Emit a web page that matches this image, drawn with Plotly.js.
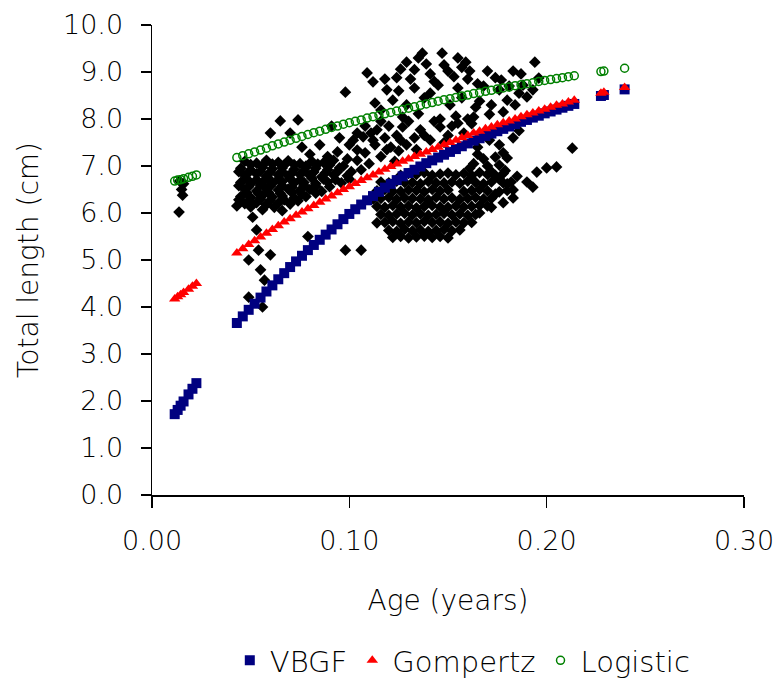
<!DOCTYPE html>
<html>
<head>
<meta charset="utf-8">
<script src="https://cdn.plot.ly/plotly-3.0.1.min.js"></script>
<style>html,body{margin:0;padding:0;background:#fff;}#chart{width:777px;height:690px;}</style>
</head>
<body>
<div id="chart"></div>
<script>
// ---- Fitted curves (evaluated at observed ages) ----
const fitAge = [0.0115,0.0130,0.0145,0.0160,0.0185,0.0205,0.0225,
  0.043,0.046,0.049,0.052,0.055,0.058,0.061,0.064,0.067,0.070,
  0.073,0.076,0.079,0.082,0.085,0.088,0.091,0.094,0.097,0.100,
  0.103,0.106,0.109,0.112,0.115,0.118,0.121,0.124,0.127,0.130,
  0.133,0.136,0.139,0.142,0.145,0.148,0.151,0.154,0.157,0.160,
  0.163,0.166,0.169,0.172,0.175,0.178,0.181,0.184,0.187,0.190,
  0.193,0.196,0.199,0.202,0.205,0.208,0.211,0.214,
  0.2275,0.2290,0.2395];
const vbgf = [1.72,1.81,1.90,1.99,2.14,2.26,2.38,
  3.66,3.80,3.94,4.07,4.20,4.33,4.46,4.59,4.72,4.85,
  4.97,5.09,5.21,5.32,5.43,5.54,5.65,5.76,5.87,5.98,
  6.08,6.18,6.27,6.36,6.45,6.54,6.62,6.70,6.78,6.85,
  6.92,6.99,7.06,7.12,7.18,7.24,7.30,7.36,7.42,7.48,
  7.54,7.59,7.64,7.69,7.74,7.79,7.84,7.89,7.94,7.98,
  8.03,8.07,8.12,8.16,8.20,8.24,8.28,8.32,
  8.49,8.51,8.63];
const gompertz = [4.17,4.22,4.26,4.31,4.38,4.44,4.50,
  5.15,5.24,5.33,5.41,5.49,5.57,5.65,5.73,5.81,5.88,
  5.95,6.02,6.09,6.16,6.23,6.30,6.36,6.43,6.50,6.56,
  6.63,6.69,6.75,6.81,6.87,6.93,6.99,7.04,7.10,7.15,
  7.20,7.25,7.30,7.35,7.40,7.45,7.50,7.55,7.60,7.65,
  7.70,7.74,7.79,7.83,7.88,7.92,7.96,8.00,8.05,8.09,
  8.13,8.17,8.21,8.25,8.29,8.32,8.36,8.40,
  8.55,8.57,8.67];
const logistic = [6.68,6.70,6.71,6.73,6.76,6.78,6.81,
  7.18,7.22,7.26,7.30,7.34,7.38,7.43,7.47,7.51,7.55,
  7.59,7.63,7.67,7.71,7.74,7.78,7.82,7.85,7.89,7.92,
  7.95,7.98,8.02,8.05,8.08,8.11,8.14,8.17,8.20,8.23,
  8.26,8.29,8.32,8.35,8.38,8.41,8.43,8.46,8.49,8.51,
  8.54,8.56,8.59,8.61,8.64,8.66,8.68,8.71,8.73,8.75,
  8.77,8.80,8.82,8.84,8.86,8.88,8.90,8.92,
  9.01,9.02,9.08];

// ---- Observed fish (age, total length) ----
const earlyAge = [0.0137,0.0150,0.0155,0.0140,0.0160];
const earlyLen = [6.02,6.50,6.38,6.68,6.62];

const leftAge = [
  0.047,0.053,0.058,0.064,0.069,0.075,0.081,0.087,0.092,
  0.050,0.056,0.061,0.067,0.072,0.078,0.084,0.090,
  0.045,0.050,0.056,0.061,0.066,0.072,0.078,0.083,0.089,0.095,
  0.044,0.049,0.055,0.060,0.066,0.071,0.077,0.082,0.088,0.094,
  0.047,0.053,0.058,0.064,0.069,0.075,0.080,0.086,0.092,0.099,
  0.048,0.053,0.059,0.064,0.070,0.075,0.081,0.087,0.093,
  0.045,0.050,0.056,0.061,0.066,0.072,0.077,0.083,0.089,0.096,
  0.044,0.049,0.055,0.060,0.066,0.071,0.077,0.083,0.090,
  0.047,0.053,0.058,0.064,0.069,0.075,0.080,0.086,
  0.048,0.054,0.059,0.065,0.071,0.076,0.083,
  0.045,0.050,0.056,0.061,0.066,0.072,0.078,
  0.044,0.049,0.055,0.060,0.067,0.074,
  0.047,0.053,0.058,0.064,0.070,
  0.050,0.056,0.062,0.066];
const leftLen = [
  7.10,7.06,7.12,7.08,7.11,7.05,7.10,7.07,7.12,
  7.03,7.01,7.04,7.02,7.03,7.00,7.04,7.02,
  6.95,6.92,6.97,6.94,6.96,6.93,6.97,6.95,6.92,6.96,
  6.88,6.86,6.89,6.87,6.88,6.85,6.89,6.87,6.86,6.88,
  6.80,6.83,6.78,6.81,6.79,6.82,6.80,6.77,6.81,6.79,
  6.73,6.71,6.74,6.72,6.73,6.70,6.74,6.72,6.71,
  6.65,6.62,6.66,6.63,6.67,6.64,6.65,6.62,6.66,6.64,
  6.58,6.56,6.59,6.57,6.58,6.55,6.59,6.57,6.56,
  6.50,6.47,6.52,6.49,6.51,6.48,6.50,6.46,
  6.43,6.41,6.44,6.42,6.43,6.40,6.42,
  6.35,6.33,6.37,6.34,6.36,6.32,6.35,
  6.28,6.26,6.29,6.27,6.28,6.26,
  6.20,6.22,6.18,6.21,6.19,
  6.13,6.07,6.12,6.05];

const upperLeftAge = [0.060,0.065,0.070,0.074,0.076,0.085,0.094,0.098,0.109,0.112,0.113,0.102,0.104,0.107,0.111,0.080,0.089,0.099];
const upperLeftLen = [7.70,7.96,7.70,7.98,7.40,7.45,7.30,8.57,8.98,8.79,8.34,7.55,7.34,7.62,7.70,7.25,7.20,7.15];

const lowAge = [0.043,0.051,0.053,0.079,0.049,0.054,0.060,0.055,0.057,0.049,0.056,0.098,0.106,0.114];
const lowLen = [6.15,5.91,5.64,5.50,5.00,5.21,5.11,4.79,4.57,4.21,4.00,5.21,5.21,5.79];

const midAge = [0.097,0.101,0.104,0.108,0.110,0.113,0.116,0.118,0.121,0.120,0.124,0.125,0.100,0.106,
  0.114,0.127,0.136,0.146,0.155,0.129,0.133,0.141,0.150,0.160,
  0.100,0.104,0.108,0.112,0.116,0.119,0.123,0.126,0.130,0.134,0.138,0.143,0.148,0.152,0.158,0.162,0.095,0.091];
const midLen = [7.00,6.88,7.12,7.28,7.05,7.45,7.20,7.60,7.40,7.85,7.65,7.32,6.72,6.92,
  7.77,7.83,7.77,7.83,7.91,7.45,7.60,7.55,7.65,8.00,
  7.45,7.70,7.85,7.55,7.95,7.35,7.10,7.55,7.95,7.35,7.65,7.95,7.50,7.85,7.70,7.90,7.60,7.85];

const upperRightAge = [0.137,0.147,0.129,0.159,0.139,0.126,0.141,0.150,0.161,0.170,0.183,0.187,0.194,0.196,
  0.119,0.133,0.145,0.155,0.168,0.176,0.177,0.116,0.127,0.135,0.146,0.154,0.164,0.172,0.180,0.190,
  0.160,0.131,0.122,0.141,0.166,0.184,0.193,0.163,0.171,0.178,0.151,0.157,0.124,0.135,
  0.171,0.183,0.176,0.186,0.165,
  0.129,0.138,0.143,0.148,0.153,0.157,0.165,0.174,0.181,0.188,0.133,0.118,0.125,0.155,0.186];
const upperRightLen = [9.40,9.40,9.21,9.21,9.17,9.06,8.96,9.02,9.02,9.02,9.02,8.96,9.21,8.87,
  8.62,8.66,8.72,8.66,8.70,8.62,8.83,8.19,8.04,8.11,8.00,8.06,8.25,8.30,8.40,8.47,
  8.85,8.85,8.40,8.55,8.38,8.30,8.62,8.04,8.10,8.15,8.30,8.45,8.88,9.30,
  7.55,7.60,7.45,7.75,7.40,
  8.30,8.45,8.80,9.15,8.90,9.10,8.75,8.88,8.70,8.72,9.05,8.85,8.60,9.30,8.55];

const lowerAge = [
  0.126,0.130,0.134,0.138,0.142,0.146,0.150,0.154,0.158,0.162,0.166,0.170,0.174,0.178,
  0.116,0.120,0.124,0.128,0.132,0.136,0.140,0.144,0.148,0.152,0.156,0.160,0.164,0.168,0.172,0.178,0.182,
  0.114,0.118,0.122,0.126,0.130,0.134,0.138,0.142,0.146,0.150,0.158,0.162,0.166,0.170,0.176,0.180,
  0.112,0.116,0.120,0.124,0.128,0.132,0.136,0.140,0.144,0.148,0.152,0.156,0.160,0.164,0.168,0.172,
  0.114,0.118,0.122,0.126,0.130,0.134,0.138,0.142,0.146,0.150,0.154,0.158,0.162,0.166,0.172,
  0.116,0.120,0.124,0.128,0.132,0.136,0.140,0.144,0.148,0.152,0.156,0.160,0.164,
  0.118,0.122,0.126,0.130,0.134,0.138,0.142,0.146,0.150,0.154,0.158,0.162,
  0.120,0.124,0.128,0.132,0.136,0.140,0.144,0.148,0.152,0.156,
  0.122,0.126,0.130,0.134,0.138,0.142,0.146,0.150];
const lowerLen = [
  6.80,6.84,6.82,6.86,6.80,6.83,6.85,6.81,6.84,6.80,6.86,6.82,6.80,6.84,
  6.66,6.64,6.68,6.65,6.65,6.62,6.67,6.64,6.64,6.66,6.63,6.68,6.65,6.62,6.66,6.64,6.66,
  6.47,6.50,6.46,6.46,6.49,6.48,6.45,6.50,6.47,6.49,6.46,6.48,6.50,6.47,6.45,6.48,
  6.30,6.31,6.33,6.29,6.32,6.31,6.30,6.28,6.33,6.30,6.32,6.29,6.31,6.33,6.30,6.31,
  6.14,6.12,6.16,6.13,6.15,6.11,6.14,6.16,6.13,6.12,6.15,6.13,6.14,6.16,6.12,
  5.97,5.95,5.98,5.99,5.96,5.98,5.95,5.97,5.99,5.96,5.98,5.95,5.97,
  5.80,5.82,5.78,5.81,5.79,5.82,5.80,5.81,5.78,5.81,5.79,5.80,
  5.63,5.61,5.65,5.62,5.64,5.61,5.63,5.65,5.62,5.64,
  5.48,5.50,5.47,5.49,5.51,5.48,5.50,5.47];

const tailAge = [0.178,0.180,0.174,0.176,0.170,0.168,0.213,0.200,0.205,0.195,0.190,0.193,0.183,0.183,
  0.179,0.185,0.180,0.172,0.176,0.174,0.178,0.170,0.166,0.163,0.165,0.161];
const tailLen = [7.28,7.17,7.19,7.02,7.00,7.15,7.38,6.96,6.98,6.87,6.66,6.55,6.49,6.32,
  6.90,6.78,6.62,6.88,6.72,6.40,6.22,6.15,6.00,7.05,7.25,6.95];

const obsAge = [].concat(earlyAge, leftAge, upperLeftAge, lowAge, midAge, upperRightAge, lowerAge, tailAge);
const obsLen = [].concat(earlyLen, leftLen, upperLeftLen, lowLen, midLen, upperRightLen, lowerLen, tailLen);

const FONT = '"DejaVu Sans", "Liberation Sans", Arial, sans-serif';
const TXT = '#000000';

const traces = [
  {x: obsAge, y: obsLen, type: 'scatter', mode: 'markers', name: 'Observed', showlegend: false,
   marker: {symbol: 'diamond', size: 9, color: '#000000'}},
  {x: fitAge, y: vbgf, type: 'scatter', mode: 'markers', name: 'VBGF',
   marker: {symbol: 'square', size: 10, color: '#000080'}},
  {x: fitAge, y: gompertz, type: 'scatter', mode: 'markers', name: 'Gompertz',
   marker: {symbol: 'triangle-up', size: 10, color: '#FF0000'}},
  {x: fitAge, y: logistic, type: 'scatter', mode: 'markers', name: 'Logistic',
   marker: {symbol: 'circle-open', size: 8, color: '#008000', line: {width: 1.5, color: '#008000'}}}
];

const layout = {
  width: 777, height: 690,
  margin: {l: 152, r: 33, t: 25, b: 195, autoexpand: false},
  paper_bgcolor: '#ffffff', plot_bgcolor: '#ffffff',
  font: {family: FONT, color: TXT, size: 27, weight: 200},
  showlegend: true,
  legend: {orientation: 'h', x: 0.525, xanchor: 'center', y: -0.352, yanchor: 'middle',
           font: {family: FONT, size: 29, color: TXT, weight: 200}, bgcolor: 'rgba(0,0,0,0)'},
  xaxis: {
    range: [0, 0.30], dtick: 0.10, tick0: 0, tickformat: '.2f',
    showgrid: false, zeroline: false, showline: true, linecolor: '#000', linewidth: 1.5,
    ticks: 'outside', ticklen: 11, tickwidth: 1.5, tickcolor: '#000',
    ticklabelstandoff: 10,
    tickfont: {family: FONT, size: 27, color: TXT, weight: 200},
    title: {text: 'Age (years)', font: {family: FONT, size: 28, color: TXT, weight: 200}, standoff: 35},
    automargin: false
  },
  yaxis: {
    range: [0, 10], dtick: 1, tick0: 0, tickformat: '.1f',
    showgrid: false, zeroline: false, showline: true, linecolor: '#000', linewidth: 1.5,
    ticks: 'outside', ticklen: 10, tickwidth: 1.5, tickcolor: '#000',
    ticklabelstandoff: 12,
    tickfont: {family: FONT, size: 27, color: TXT, weight: 200},
    title: {text: 'Total length (cm)', font: {family: FONT, size: 28, color: TXT, weight: 200}, standoff: 16},
    automargin: false
  }
};

Plotly.newPlot('chart', traces, layout, {displayModeBar: false, staticPlot: true});
</script>
</body>
</html>
